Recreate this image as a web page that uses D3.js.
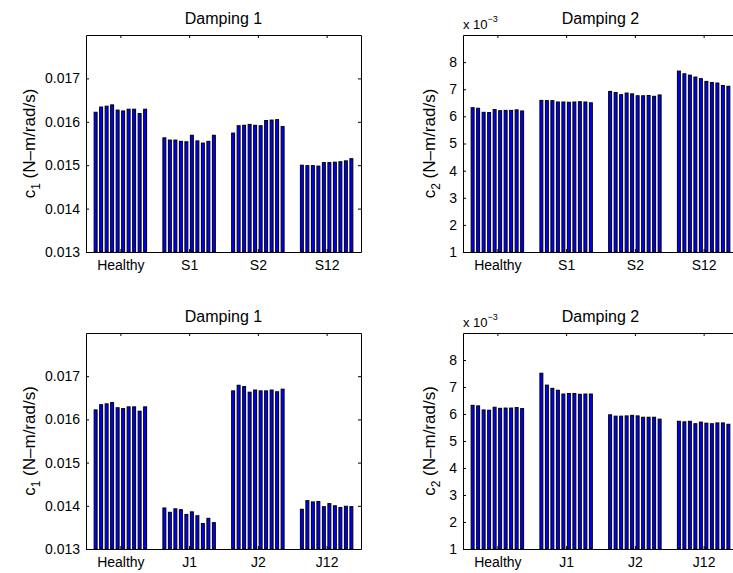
<!DOCTYPE html>
<html>
<head>
<meta charset="utf-8">
<script src="https://cdn.jsdelivr.net/npm/d3@7"></script>
<style>
  body { margin: 0; background: #fff; }
  svg { font-family: "Liberation Sans", Arial, Helvetica, sans-serif; }
</style>
</head>
<body>
<div id="chart"></div>
<script>
// group names
var topGroups = ["Healthy", "S1", "S2", "S12"];
var bottomGroups = ["Healthy", "J1", "J2", "J12"];

// damping 1 (N-m/rad/s)
var healthyC1 = [0.01622, 0.01634, 0.01636, 0.01639, 0.01627, 0.01625, 0.01629, 0.01629, 0.01619, 0.01629];
var s1C1 = [0.01563, 0.01558, 0.01558, 0.01555, 0.01554, 0.01569, 0.01556, 0.01551, 0.01555, 0.01569];
var s2C1 = [0.01574, 0.01591, 0.01592, 0.01594, 0.01592, 0.01591, 0.01603, 0.01604, 0.01605, 0.01589];
var s12C1 = [0.01500, 0.01499, 0.01499, 0.01498, 0.01506, 0.01506, 0.01507, 0.01508, 0.01510, 0.01515];
var j1C1 = [0.01395, 0.01385, 0.01393, 0.01391, 0.01380, 0.01386, 0.01377, 0.01359, 0.01371, 0.01361];
var j2C1 = [0.01666, 0.01679, 0.01676, 0.01663, 0.01668, 0.01666, 0.01666, 0.01668, 0.01664, 0.01670];
var j12C1 = [0.01392, 0.01412, 0.01409, 0.01410, 0.01398, 0.01405, 0.01400, 0.01396, 0.01399, 0.01398];

// damping 2, in units of 1e-3 N-m/rad/s
var healthyC2 = [6.32, 6.30, 6.15, 6.14, 6.25, 6.21, 6.22, 6.22, 6.24, 6.20];
var s1C2 = [6.59, 6.58, 6.58, 6.53, 6.53, 6.52, 6.53, 6.54, 6.53, 6.50];
var s2C2 = [6.92, 6.88, 6.80, 6.86, 6.83, 6.76, 6.76, 6.77, 6.74, 6.79];
var s12C2 = [7.67, 7.57, 7.52, 7.45, 7.39, 7.29, 7.25, 7.23, 7.14, 7.11];
var j1C2 = [7.51, 7.07, 6.95, 6.88, 6.74, 6.76, 6.76, 6.73, 6.74, 6.74];
var j2C2 = [5.97, 5.92, 5.92, 5.93, 5.95, 5.93, 5.88, 5.88, 5.88, 5.81];
var j12C2 = [5.73, 5.71, 5.73, 5.64, 5.70, 5.66, 5.64, 5.67, 5.67, 5.62];

// tick values
var c1Ticks = [0.013, 0.014, 0.015, 0.016, 0.017];
var c2Ticks = [1, 2, 3, 4, 5, 6, 7, 8];

var W = 733, H = 573;
var svg = d3.select("#chart").append("svg").attr("width", W).attr("height", H);

var panels = [
    {x0: 86, x1: 361, y0: 35, y1: 252, title: "Damping 1", groups: topGroups,
     series: [healthyC1, s1C1, s2C1, s12C1], domain: [0.013, 0.018], ticks: c1Ticks,
     fmt: d3.format(".3f"), sub: "1", labelX: 35, expo: false},
    {x0: 463, x1: 738, y0: 35, y1: 252, title: "Damping 2", groups: topGroups,
     series: [healthyC2, s1C2, s2C2, s12C2], domain: [1, 9], ticks: c2Ticks,
     fmt: d3.format("d"), sub: "2", labelX: 435, expo: true},
    {x0: 86, x1: 361, y0: 333, y1: 549, title: "Damping 1", groups: bottomGroups,
     series: [healthyC1, j1C1, j2C1, j12C1], domain: [0.013, 0.018], ticks: c1Ticks,
     fmt: d3.format(".3f"), sub: "1", labelX: 35, expo: false},
    {x0: 463, x1: 738, y0: 333, y1: 549, title: "Damping 2", groups: bottomGroups,
     series: [healthyC2, j1C2, j2C2, j12C2], domain: [1, 9], ticks: c2Ticks,
     fmt: d3.format("d"), sub: "2", labelX: 435, expo: true}
];

var nBars = 10,
    groupWidth = 0.8,            // matlab grouped bar
    slot = groupWidth / nBars,
    barW = slot * 0.72;

function styleAxis(ax, size) {
    ax.attr("font-family", null).attr("font-size", size);
    ax.selectAll("path, line").attr("stroke", "#000").attr("stroke-width", 1);
    ax.selectAll("text").attr("fill", "#000");
}

panels.forEach(function (p) {
    var x = d3.scaleLinear().domain([0.5, 4.5]).range([p.x0, p.x1]),
        y = d3.scaleLinear().domain(p.domain).range([p.y1, p.y0]),
        g = svg.append("g"),
        bw = x(barW) - x(0);

    // bars (outline drawn inside the bar width so white gaps stay visible)
    p.series.forEach(function (vals, gi) {
        g.selectAll(null)
            .data(vals)
            .enter()
            .append("rect")
            .attr("x", function (d, j) { return x(gi + 1 + (j - (nBars - 1) / 2) * slot) - bw / 2 + 0.5; })
            .attr("width", bw - 1)
            .attr("y", function (d) { return y(d); })
            .attr("height", function (d) { return y(p.domain[0]) - y(d); })
            .attr("fill", "#0000ff")
            .attr("stroke", "#000")
            .attr("stroke-width", 1);
    });

    // axes, ticks inside like matlab
    var left = g.append("g").attr("transform", "translate(" + p.x0 + ",0)")
        .call(d3.axisLeft(y).tickValues(p.ticks).tickFormat(p.fmt).tickSize(-3).tickSizeOuter(0).tickPadding(6));
    styleAxis(left, 14);
    var right = g.append("g").attr("transform", "translate(" + p.x1 + ",0)")
        .call(d3.axisRight(y).tickValues(p.ticks).tickFormat("").tickSize(-3).tickSizeOuter(0));
    styleAxis(right, 14);
    var bottom = g.append("g").attr("transform", "translate(0," + p.y1 + ")")
        .call(d3.axisBottom(x).tickValues([1, 2, 3, 4])
            .tickFormat(function (i) { return p.groups[i - 1]; })
            .tickSize(-3).tickSizeOuter(0).tickPadding(7));
    styleAxis(bottom, 14);
    bottom.selectAll("text").attr("dy", "0.75em");
    var top = g.append("g").attr("transform", "translate(0," + p.y0 + ")")
        .call(d3.axisTop(x).tickValues([1, 2, 3, 4]).tickFormat("").tickSize(-3).tickSizeOuter(0));
    styleAxis(top, 14);

    // title
    g.append("text")
        .attr("x", (p.x0 + p.x1) / 2)
        .attr("y", p.y0 - 11)
        .attr("text-anchor", "middle")
        .attr("font-size", 16)
        .text(p.title);

    // y label
    var lab = g.append("text")
        .attr("transform", "translate(" + p.labelX + "," + ((p.y0 + p.y1) / 2) + ") rotate(-90)")
        .attr("text-anchor", "middle")
        .attr("font-size", 17);
    lab.append("tspan").text("c");
    lab.append("tspan").attr("font-size", 12).attr("dy", 5).text(p.sub);
    lab.append("tspan").attr("dy", -5).text(" (N\u2013m/rad/s)");

    // exponent
    if (p.expo) {
        var ex = g.append("text")
            .attr("x", p.x0)
            .attr("y", p.y0 - 6)
            .attr("font-size", 13);
        ex.append("tspan").text("x 10");
        ex.append("tspan").attr("font-size", 9).attr("dy", -7).text("\u22123");
    }
});
</script>
</body>
</html>
